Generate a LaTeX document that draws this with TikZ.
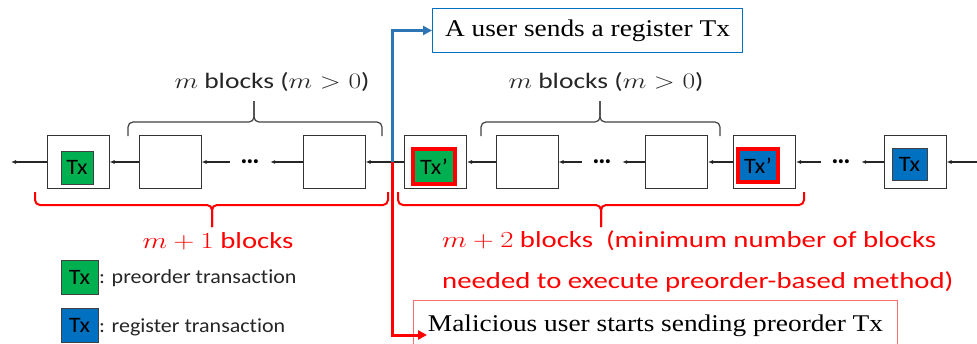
\RequirePackage{fix-cm}
\documentclass[tikz,border=0pt]{standalone}
\usepackage{graphicx}
\usepackage{fontspec}
\setmainfont{Carlito}[Ligatures=NoCommon]
\newfontfamily\serifbox{Liberation Serif}
\usetikzlibrary{arrows.meta}
\definecolor{txgreen}{RGB}{0,176,80}
\definecolor{txblue}{RGB}{0,112,192}
\definecolor{usrblue}{RGB}{46,117,182}
\definecolor{boxred}{RGB}{255,110,110}
\definecolor{bracegray}{RGB}{64,64,64}
\newcommand{\hwide}[2]{\scalebox{#1}[1]{#2}}

\begin{document}
\begin{tikzpicture}[x=1pt, y=-1pt,
    block/.style={draw=black!80, line width=1pt, minimum width=62, minimum height=53, inner sep=0},
    txbox/.style={draw=black!75, line width=0.8pt, inner sep=0, font=\fontsize{22}{22}\selectfont},
    marked/.style={draw=red, line width=4pt},
    link/.style={-{Latex[length=5pt,width=4pt]}, line width=1.1pt, black!85},
    dots/.style={minimum width=40, inner sep=0, font=\fontsize{27}{27}\selectfont\bfseries},
    brace/.style={draw=bracegray, line width=1.2pt, rounded corners=5pt},
    redbrace/.style={draw=red, line width=2pt, rounded corners=5pt},
    note/.style={font=\fontsize{22}{26}\selectfont, text=black!85},
    rednote/.style={font=\fontsize{23}{41}\selectfont, text=red},
    legend/.style={font=\fontsize{20}{22}\selectfont, text=black!85, inner sep=0},
    evbox/.style={font=\serifbox\fontsize{24}{28}\selectfont, line width=1pt},
    usrarrow/.style={draw=usrblue, line width=3pt, -{Triangle[length=9pt,width=9pt]}},
    malarrow/.style={draw=red, line width=3pt, -{Triangle[length=9pt,width=9pt]}}
]
\useasboundingbox (0,0) rectangle (977,343);

\def\chainy{162}
\def\sw{1.25}

% the chain
\foreach \x [count=\n] in {78,170,334,435.5,527,676.5,764.5,915}
  \node[block] (blk\n) at (\x,\chainy) {};
\node[dots] (dotsA) at (250,\chainy) {…};
\node[dots] (dotsB) at (602,\chainy) {…};
\node[dots] (dotsC) at (841,\chainy) {…};
\coordinate (tailL) at (11,\chainy);
\coordinate (headR) at (977,\chainy);
\coordinate (split) at (392,\chainy);

\node[txbox, fill=txgreen, minimum width=32, minimum height=33] (tx1) at (77,167.5) {\hwide{1.1}{Tx}};
\node[txbox, marked, fill=txgreen, minimum width=42, minimum height=35] (tx4) at (434,166.5) {\hwide{1.1}{Tx’}};
\node[txbox, marked, fill=txblue, minimum width=40, minimum height=33] (tx7) at (758,165.5) {\hwide{1.1}{Tx’}};
\node[txbox, fill=txblue, minimum width=35, minimum height=32] (tx8) at (909.5,164) {\hwide{1.1}{Tx}};

\draw[link] (blk1) -- (tailL);
\draw[link] (blk2) -- (blk1);
\draw[link] (dotsA) -- (blk2);
\draw[link] (blk3) -- (dotsA);
\draw[link] (blk4) -- (blk3);
\draw[link] (blk5) -- (blk4);
\draw[link] (dotsB) -- (blk5);
\draw[link] (blk6) -- (dotsB);
\draw[link] (blk7) -- (blk6);
\draw[link] (dotsC) -- (blk7);
\draw[link] (blk8) -- (dotsC);
\draw[link] (headR) -- (blk8);

% braces
\foreach \l/\m/\r in {128/254/382, 481/600/720} {
  \draw[brace] (\l,136) |- (\m,122) -- (\m,101);
  \draw[brace] (\r,136) |- (\m,122) -- (\m,101);
}
\foreach \l/\m/\r in {35/212/388, 398/601/804} {
  \draw[redbrace] (\l,192) |- (\m,205) -- (\m,227);
  \draw[redbrace] (\r,192) |- (\m,205) -- (\m,227);
}
\node[note, anchor=base] (mlabA) at (272,88) {\hwide{\sw}{$m$ blocks ($m>0$)}};
\node[note, anchor=base] (mlabB) at (606,88) {\hwide{\sw}{$m$ blocks ($m>0$)}};
\node[rednote, anchor=base] (plusone) at (218,248) {\hwide{\sw}{$m+1$ blocks}};
\node[rednote, anchor=north west, align=left, inner sep=0] (plustwo) at (442,230.5)
  {\hwide{\sw}{$m+2$ blocks~~(minimum number of blocks}\\\hwide{\sw}{needed to execute preorder-based method)}};

% legend
\node[txbox, fill=txgreen, minimum width=37, minimum height=34] (legG) at (79.5,277) {\hwide{1.1}{Tx}};
\node[legend, anchor=base west] (legGtxt) at (99,283) {\hwide{1.1}{: preorder transaction}};
\node[txbox, fill=txblue, minimum width=37, minimum height=34] (legB) at (79.5,325) {\hwide{1.1}{Tx}};
\node[legend, anchor=base west] (legBtxt) at (99,332) {\hwide{1.1}{: register transaction}};

% events
\node[evbox, draw=txblue, minimum width=310, minimum height=44, inner sep=0, anchor=north west] (userbox) at (432,8) {\hwide{1.14}{A user sends a register Tx}};
\node[evbox, draw=boxred, minimum width=484, text height=17, text depth=24, inner xsep=11, inner ysep=14, anchor=north west] (malbox) at (413,300) {\hwide{1.14}{Malicious user starts sending preorder Tx}};
\coordinate (malin) at ([xshift=14]malbox.west);
\draw[usrarrow] (split) |- (userbox.west);
\draw[malarrow] (split) |- (malin);

\end{tikzpicture}
\end{document}
